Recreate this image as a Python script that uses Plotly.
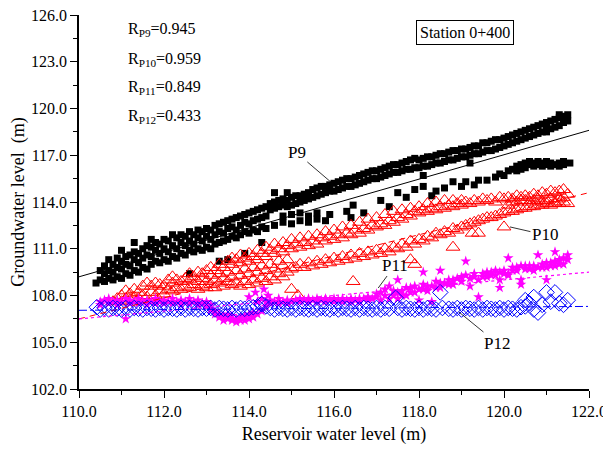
import plotly.graph_objects as go

# ---------------- data ----------------
# P9 : (reservoir level, groundwater level)
p9_pts = [
    (110.4,108.8),(110.5,109.0),(110.5,109.6),(110.6,108.9),(110.6,109.4),(110.6,109.9),(110.7,109.1),(110.7,109.6),(110.7,110.3),
    (110.8,109.0),(110.8,109.5),(110.8,110.0),(110.9,109.2),(110.9,109.8),(110.9,110.4),(111.0,109.1),(111.0,109.7),(111.0,110.2),
    (111.0,110.9),(111.1,109.4),(111.1,110.0),(111.1,110.5),(111.2,109.3),(111.2,109.9),(111.2,110.6),(111.3,109.6),(111.3,110.3),
    (111.3,110.8),(111.3,111.4),(111.4,109.5),(111.4,110.1),(111.4,110.7),(111.5,109.8),(111.5,110.4),(111.5,111.0),(111.6,109.7),
    (111.6,110.6),(111.6,111.2),(111.7,110.0),(111.7,110.5),(111.7,111.1),(111.7,111.6),(111.8,110.2),(111.8,110.9),(111.8,111.4),
    (111.9,110.1),(111.9,110.7),(111.9,111.3),(112.0,110.3),(112.0,111.0),(112.0,111.6),(112.1,110.2),(112.1,110.8),(112.1,111.5),
    (112.2,110.5),(112.2,111.2),(112.2,111.9),(112.3,110.4),(112.3,111.0),(112.3,111.7),(112.4,110.7),(112.4,111.4),(112.4,111.9),
    (112.5,110.6),(112.5,111.2),(112.5,111.8),(112.6,109.4),(112.6,110.9),(112.6,111.5),(112.6,112.1),(112.7,110.8),(112.7,111.3),
    (112.7,111.9),(112.8,111.0),(112.8,111.7),(112.8,112.2),(112.9,110.9),(112.9,111.5),(112.9,112.1),(113.0,111.1),(113.0,111.8),
    (113.0,112.3),(113.1,111.0),(113.1,111.6),(113.1,112.2),(113.2,111.3),(113.2,111.9),(113.2,112.5),(113.3,110.2),(113.3,111.4),
    (113.3,112.1),(113.3,112.6),(113.4,111.5),(113.4,112.0),(113.4,112.7),(113.5,110.3),(113.5,111.6),(113.5,112.3),(113.5,112.8),
    (113.6,111.8),(113.6,112.4),(113.6,112.9),(113.7,111.7),(113.7,112.2),(113.7,113.0),(113.8,111.9),(113.8,112.5),(113.8,113.1),
    (113.9,110.7),(113.9,112.1),(113.9,112.7),(113.9,113.2),(114.0,112.0),(114.0,112.6),(114.0,113.3),(114.1,112.2),(114.1,112.8),
    (114.1,113.4),(114.2,112.1),(114.2,112.9),(114.2,113.5),(114.3,111.4),(114.3,112.4),(114.3,113.0),(114.3,113.6),(114.4,112.3),
    (114.4,113.1),(114.4,113.7),
    (114.5,113.5),(114.5,113.9),(114.6,113.6),(114.6,114.0),(114.6,114.6),(114.7,113.7),(114.7,114.1),(114.8,113.8),(114.8,114.2),
    (114.9,113.7),(114.9,114.1),(114.9,114.6),(115.0,113.8),(115.0,114.3),(115.1,113.9),(115.1,114.4),(115.2,114.0),(115.2,114.4),
    (115.3,114.1),(115.3,114.5),(115.4,114.2),(115.4,114.6),(115.5,114.3),(115.5,114.8),(115.6,114.4),(115.6,114.9),(115.7,114.5),
    (115.7,115.0),(115.8,114.6),(115.8,115.0),(115.9,114.7),(115.9,115.1),(116.0,114.7),(116.0,115.2),(116.1,114.8),(116.1,115.3),
    (116.2,114.9),(116.2,115.4),(116.3,115.0),(116.3,115.5),(116.4,115.0),(116.4,115.5),(116.5,115.1),(116.5,115.6),(116.6,115.2),
    (116.6,115.7),(116.7,115.3),(116.7,115.8),(116.8,115.4),(116.8,115.9),(116.9,115.5),(116.9,116.0),(117.0,115.5),(117.0,116.0),
    (117.1,115.6),(117.1,116.1),(117.2,115.7),(117.2,116.2),(117.3,115.8),(117.3,116.3),(117.4,115.9),(117.4,116.4),(117.5,115.9),
    (117.5,116.4),(117.6,116.0),(117.6,116.5),(117.7,116.1),(117.7,116.6),(117.8,116.1),(117.8,116.7),(117.9,116.2),(117.9,116.8),
    (118.0,116.2),(118.0,116.7),(118.1,115.7),(118.1,116.3),(118.1,116.8),(118.2,116.3),(118.2,116.9),(118.3,116.4),(118.3,116.9),
    (118.4,116.5),(118.4,117.0),(118.5,116.5),(118.5,117.1),(118.6,116.6),(118.6,117.1),(118.7,116.7),(118.7,117.2),(118.8,116.7),
    (118.8,117.3),(118.9,116.8),(118.9,117.3),(119.0,116.9),(119.0,117.4),(119.1,116.9),(119.1,117.4),(119.2,116.5),(119.2,117.0),
    (119.2,117.5),(119.3,117.1),(119.3,117.6),(119.4,117.1),(119.4,117.6),(119.5,117.2),(119.5,117.8),(119.6,117.3),(119.6,117.8),
    (119.7,117.3),(119.7,117.9),(119.8,117.4),(119.8,118.0),(119.9,117.5),(119.9,118.0),(120.0,117.6),(120.0,118.1),(120.1,117.7),
    (120.1,118.2),(120.2,117.8),(120.2,118.3),(120.3,117.9),(120.3,118.4),(120.4,118.0),(120.4,118.5),(120.5,118.1),(120.5,118.6),
    (120.6,118.2),(120.6,118.7),(120.7,118.3),(120.7,118.8),(120.8,118.4),(120.8,118.9),(120.9,118.5),(120.9,119.0),(121.0,118.5),
    (121.0,118.7),(121.0,119.1),(121.1,118.7),(121.1,119.2),(121.2,118.8),(121.2,119.3),(121.3,118.9),(121.3,119.4),(121.3,119.6),
    (121.4,119.1),(121.4,119.5),(121.5,119.2),(121.5,119.6),
    (114.6,112.5),(114.8,112.7),(114.8,113.1),(115.0,112.6),(115.0,113.2),(115.2,112.8),(115.2,113.3),(115.4,112.7),(115.4,113.1),
    (115.6,112.9),(115.6,113.3),(115.8,112.8),(115.9,113.2),(116.3,113.4),(116.4,113.0),
    (116.45,113.8),(116.7,113.3),(117.1,114.1),(117.3,113.7),(117.5,114.6),(117.7,114.3),(117.9,114.8),(118.1,115.0),(118.3,114.4),
    (118.4,114.7),(118.6,114.9),(118.8,115.3),(119.0,115.0),(119.1,115.3),(119.3,115.1),(119.4,115.4),(119.6,115.4),(119.8,115.6),
    (119.9,115.8),(120.0,115.7),(120.1,116.0),(120.2,116.1),(120.3,116.3),(120.3,116.0),(120.4,116.4),(120.4,116.1),(120.5,116.5),
    (120.5,116.2),(120.6,116.4),(120.6,116.6),(120.7,116.3),(120.7,116.5),(120.8,116.6),(120.8,116.4),(120.9,116.5),(120.9,116.3),
    (121.0,116.4),(121.0,116.6),(121.1,116.5),(121.1,116.3),(121.2,116.4),(121.3,116.5),(121.3,116.3),(121.4,116.4),(121.4,116.6),
    (121.55,116.5),
]

# P10
p10_pts = [
    (110.8,107.6),(110.9,107.8),(111.0,107.6),(111.0,108.0),(111.1,107.8),(111.1,108.3),(111.2,107.7),(111.2,108.1),(111.3,107.9),
    (111.3,108.4),(111.4,107.8),(111.4,108.2),(111.5,108.0),(111.5,108.6),(111.6,107.9),(111.6,108.8),(111.7,108.2),(111.7,108.6),
    (111.8,108.0),(111.8,108.8),(111.9,108.3),(111.9,108.7),(112.0,108.1),(112.0,108.6),(112.1,108.4),(112.1,109.0),(112.2,108.3),
    (112.2,108.8),(112.2,109.2),(112.3,108.5),(112.3,109.0),(112.4,108.4),(112.4,108.9),(112.5,108.6),(112.5,109.1),(112.6,108.5),
    (112.6,109.0),(112.6,109.4),(112.7,108.7),(112.7,109.2),(112.8,108.4),(112.8,108.9),(112.8,109.5),(112.9,108.6),(112.9,109.1),
    (112.9,109.4),(113.0,108.5),(113.0,108.9),(113.0,109.6),(113.1,108.7),(113.1,109.3),(113.1,109.8),(113.2,108.5),(113.2,109.0),
    (113.2,109.6),(113.3,108.8),(113.3,109.4),(113.3,110.0),(113.4,108.6),(113.4,109.1),(113.4,109.8),(113.5,108.9),(113.5,109.5),
    (113.5,110.2),(113.6,108.7),(113.6,109.2),(113.6,110.0),(113.6,110.4),(113.7,108.8),(113.7,109.6),(113.7,110.3),(113.8,108.6),
    (113.8,109.3),(113.8,110.1),(113.8,110.6),(113.9,108.9),(113.9,109.7),(113.9,110.4),(114.0,108.7),(114.0,109.4),(114.0,110.2),
    (114.0,110.7),(114.1,109.0),(114.1,109.8),(114.1,110.5),(114.2,108.8),(114.2,109.5),(114.2,110.3),(114.2,110.9),(114.3,109.1),
    (114.3,109.9),(114.3,110.7),(114.4,108.9),(114.4,109.6),(114.4,110.5),(114.4,111.1),(114.5,109.2),(114.5,110.0),(114.5,110.9),
    (114.6,109.0),(114.6,109.7),(114.6,110.7),(114.6,111.3),(114.7,109.4),(114.7,110.2),(114.7,111.0),(114.8,109.2),(114.8,109.9),
    (114.8,110.8),(114.8,111.4),(114.9,109.5),(114.9,110.3),(114.9,111.2),(115.0,108.4),(115.0,109.7),(115.0,111.0),(115.0,111.6),
    (115.15,108.0),(115.1,109.8),(115.1,111.3),(115.2,110.0),(115.2,111.1),(115.2,111.7),(115.3,109.8),(115.3,111.4),(115.4,110.1),
    (115.4,111.2),(115.4,111.8),(115.5,109.9),(115.5,111.5),(115.6,110.2),(115.6,111.3),(115.6,111.9),(115.7,110.0),(115.7,111.7),
    (115.8,110.3),(115.8,111.5),(115.8,112.1),(115.9,110.1),(115.9,111.8),(116.0,110.4),(116.0,111.6),(116.0,112.2),(116.1,110.2),
    (116.1,111.9),(116.2,110.5),(116.2,111.7),(116.2,112.4),(116.3,110.3),(116.3,112.0),(116.45,108.9),(116.4,110.6),(116.4,111.9),
    (116.4,112.5),(116.5,110.4),(116.5,112.2),(116.6,110.7),(116.6,112.0),(116.6,112.7),(116.7,110.5),(116.7,112.3),(116.8,110.8),
    (116.8,112.2),(116.8,112.9),(116.9,110.6),(116.9,112.5),(117.0,110.9),(117.0,112.4),(117.0,113.0),(117.1,110.7),(117.1,112.6),
    (117.2,111.0),(117.2,112.5),(117.2,113.2),(117.3,110.8),(117.3,112.8),(117.4,111.1),(117.4,112.7),(117.4,113.4),(117.5,111.0),
    (117.5,113.0),(117.6,111.3),(117.6,112.9),(117.6,113.5),(117.7,111.1),(117.7,113.2),(117.8,110.3),(117.8,111.5),(117.8,113.1),
    (117.8,113.6),(117.9,110.0),(117.9,111.3),(117.9,113.4),(118.0,111.6),(118.0,113.3),(118.0,113.7),(118.1,111.5),(118.1,113.5),
    (118.2,111.8),(118.2,113.4),(118.2,113.9),(118.3,111.7),(118.3,113.6),(118.4,112.0),(118.4,113.5),(118.4,114.0),(118.5,111.9),
    (118.5,113.7),(118.6,112.1),(118.6,113.6),(118.6,114.1),(118.7,112.0),(118.7,113.8),(118.8,111.1),(118.8,112.3),(118.8,113.7),
    (118.8,114.1),(118.9,112.2),(118.9,113.9),(119.0,112.4),(119.0,113.8),(119.0,114.1),(119.1,112.5),(119.1,114.0),(119.25,112.0),
    (119.2,112.6),(119.2,113.9),(119.3,112.7),(119.3,114.1),(119.4,112.0),(119.4,112.8),(119.4,114.0),(119.5,112.9),(119.5,114.2),
    (119.6,113.0),(119.6,114.1),(119.7,113.0),(119.7,114.2),(119.8,113.1),(119.8,114.0),(119.9,113.2),(119.9,114.3),(120.0,112.4),
    (120.0,113.3),(120.0,114.2),(120.1,113.4),(120.1,113.8),(120.1,114.3),(120.2,113.4),(120.2,114.0),(120.2,114.2),(120.3,113.5),
    (120.3,114.0),(120.3,114.4),(120.4,113.6),(120.4,114.1),(120.4,114.3),(120.5,113.6),(120.5,114.1),(120.5,114.4),(120.6,113.7),
    (120.6,114.0),(120.6,114.3),(120.7,113.7),(120.7,114.1),(120.7,114.5),(120.8,113.8),(120.8,114.2),(120.8,114.4),(120.9,113.8),
    (120.9,114.0),(120.9,114.6),(121.0,113.9),(121.0,114.1),(121.0,114.5),(121.1,113.8),(121.1,114.2),(121.1,114.7),(121.2,113.9),
    (121.2,114.0),(121.2,114.6),(121.3,113.9),(121.3,114.2),(121.3,114.7),(121.4,114.0),(121.4,114.3),(121.4,114.8),(121.5,113.9),
    (121.5,114.5),
]

# P11
p11_pts = [
    (110.5,107.6),(110.5,107.4),(110.6,107.7),(110.7,107.5),(110.7,107.8),(110.8,107.6),(110.9,107.7),(110.9,107.4),(111.0,107.6),
    (111.1,106.5),(111.1,107.8),(111.2,107.5),(111.2,107.7),(111.3,107.6),(111.4,107.8),(111.4,107.5),(111.5,107.6),(111.6,107.7),
    (111.6,107.4),(111.7,107.6),(111.8,107.8),(111.8,107.5),(111.9,107.6),(112.0,107.7),(112.0,107.5),(112.1,107.6),(112.2,107.8),
    (112.2,107.5),(112.3,107.6),(112.4,107.7),(112.4,107.4),(112.5,107.6),(112.6,107.8),(112.6,107.5),(112.7,107.6),(112.8,107.7),
    (112.8,107.4),(112.9,107.5),(113.0,107.6),(113.0,107.3),(113.1,107.4),(113.1,107.1),(113.2,107.0),(113.2,106.8),(113.3,106.8),
    (113.3,106.6),(113.4,106.7),(113.4,106.4),(113.5,106.5),(113.5,106.8),(113.6,106.4),(113.6,106.7),(113.7,106.5),(113.7,106.3),
    (113.8,106.6),(113.8,106.4),(113.9,106.4),(113.9,106.7),(114.0,106.5),(114.0,106.8),(114.0,107.9),(114.1,106.6),(114.1,106.9),
    (114.15,108.2),(114.2,106.8),(114.2,107.6),(114.35,108.4),(114.3,107.0),(114.3,107.8),(114.45,108.0),(114.4,107.3),(114.4,107.6),
    (114.5,107.5),(114.5,107.7),(114.6,107.6),(114.7,107.5),(114.7,107.8),(114.8,107.6),(114.9,107.7),(114.9,107.5),(115.0,107.6),
    (115.1,107.7),(115.2,107.6),(115.2,107.8),(115.3,107.7),(115.4,107.6),(115.4,107.8),(115.5,107.7),(115.6,107.6),(115.6,107.8),
    (115.7,107.7),(115.8,107.6),(115.8,107.8),(115.9,107.7),(116.0,107.6),(116.0,107.8),(116.1,107.7),(116.2,107.8),(116.2,107.6),
    (116.3,107.7),(116.4,107.8),(116.4,107.6),(116.5,107.7),(116.6,107.8),(116.6,107.6),(116.7,107.8),(116.8,107.9),(116.8,107.7),
    (116.9,107.8),(117.0,107.9),(117.0,108.1),(117.1,107.7),(117.1,108.2),(117.2,108.0),(117.2,108.4),(117.3,108.6),(117.3,107.8),
    (117.4,108.0),(117.4,108.3),(117.5,109.0),(117.5,107.8),(117.5,108.2),(117.6,108.3),(117.6,108.0),(117.7,108.0),(117.7,108.5),
    (117.8,108.5),(117.8,108.2),(117.9,108.2),(117.9,108.6),(118.0,108.4),(118.0,107.7),(118.1,109.5),(118.1,108.7),(118.1,108.4),
    (118.2,108.3),(118.2,108.6),(118.3,108.6),(118.3,107.6),(118.4,108.9),(118.4,108.5),(118.5,109.6),(118.5,108.5),(118.5,108.8),
    (118.6,108.8),(118.7,109.0),(118.7,108.7),(118.8,108.7),(118.8,109.0),(118.9,109.1),(119.0,108.9),(119.0,109.2),(119.1,110.2),
    (119.1,109.3),(119.2,108.6),(119.2,109.1),(119.3,109.2),(119.3,109.4),(119.4,109.0),(119.4,107.9),(119.5,109.4),(119.5,109.2),
    (119.6,109.2),(119.6,109.5),(119.7,109.5),(119.7,109.3),(119.8,109.3),(119.8,109.6),(119.9,109.0),(119.9,108.5),(119.9,109.5),
    (120.0,109.6),(120.0,109.4),(120.1,110.4),(120.1,109.4),(120.1,109.3),(120.2,109.8),(120.2,109.6),(120.3,109.6),(120.3,109.8),
    (120.4,109.9),(120.4,109.0),(120.4,108.7),(120.5,109.7),(120.5,109.9),(120.6,109.9),(120.6,109.7),(120.7,109.6),(120.7,109.9),
    (120.8,110.6),(120.8,109.8),(120.9,110.0),(120.9,109.8),(121.0,109.8),(121.0,109.0),(121.0,110.1),(121.1,110.1),(121.1,109.9),
    (121.2,110.8),(121.2,109.9),(121.2,110.2),(121.3,110.3),(121.3,110.0),(121.4,110.0),(121.4,110.4),(121.5,110.6),(121.5,110.3),
]

# P12
p12_pts = [
    (110.42,107.25),(110.5,107.1),(110.6,107.2),(110.7,107.1),(110.8,107.2),(110.9,107.15),(111.0,107.1),(111.1,107.2),(111.2,107.1),
    (111.3,107.2),(111.4,107.15),(111.5,107.1),(111.6,107.2),(111.7,107.15),(111.8,107.1),(111.9,107.2),(112.0,107.1),(112.1,107.2),
    (112.2,107.15),(112.3,107.1),(112.4,107.2),(112.5,107.1),(112.6,107.2),(112.7,107.15),(112.8,107.1),(112.9,107.2),(113.0,107.15),
    (113.1,107.2),(113.2,107.1),(113.3,107.2),(113.4,107.15),(113.5,107.1),(113.6,107.2),(113.7,107.1),(113.8,107.2),(113.9,107.15),
    (114.0,107.2),(114.1,107.25),(114.2,107.3),(114.3,107.45),(114.4,107.3),(114.5,107.2),(114.6,107.1),(114.7,107.2),(114.8,107.15),
    (114.9,107.1),(115.0,107.2),(115.1,107.1),(115.2,107.2),(115.3,107.15),(115.4,107.1),(115.5,107.2),(115.6,107.1),(115.7,107.2),
    (115.8,107.15),(115.9,107.1),(116.0,107.2),(116.1,107.1),(116.2,107.2),(116.3,107.15),(116.4,107.1),(116.5,107.2),(116.6,107.1),
    (116.7,107.2),(116.8,107.15),(116.9,107.1),(117.0,107.2),(117.1,107.1),(117.2,107.2),(117.3,107.15),(117.45,107.85),(117.5,107.2),
    (117.6,107.1),(117.7,107.2),(117.8,107.15),(117.9,107.1),(118.0,107.2),(118.1,107.1),(118.2,107.2),(118.3,107.15),(118.4,107.1),
    (118.5,108.2),(118.55,107.2),(118.7,107.15),(118.8,107.1),(118.9,107.2),(119.0,107.1),(119.1,107.2),(119.2,107.15),(119.3,107.1),
    (119.4,107.2),(119.5,107.1),(119.6,107.2),(119.7,107.15),(119.8,107.1),(119.9,107.2),(120.0,107.1),(120.1,107.2),(120.2,107.15),
    (120.3,107.1),(120.4,107.25),(120.5,107.3),(120.5,107.7),(120.6,107.5),(120.7,107.1),(120.7,107.9),(120.8,106.9),(120.9,107.4),
    (121.0,108.2),(121.1,107.6),(121.2,108.2),(121.3,107.5),(121.4,107.4),(121.5,107.7),
]

p9_x, p9_y = [p[0] for p in p9_pts], [p[1] for p in p9_pts]
p10_x, p10_y = [p[0] for p in p10_pts], [p[1] for p in p10_pts]
p11_x, p11_y = [p[0] for p in p11_pts], [p[1] for p in p11_pts]
p12_x, p12_y = [p[0] for p in p12_pts], [p[1] for p in p12_pts]

# linear fits (end points)
fit_x = [110.0, 122.0]
p9_fit = [109.2, 118.6]
p10_fit = [106.5, 114.6]
p11_fit = [106.5, 109.5]
p12_fit = [107.05, 107.3]

r_labels = ["P9", "P10", "P11", "P12"]
r_values = [0.945, 0.959, 0.849, 0.433]

# ---------------- figure ----------------
FONT = "Liberation Serif"
fig = go.Figure()

fig.add_trace(go.Scatter(x=p9_x, y=p9_y, mode="markers", name="P9",
                         marker=dict(symbol="square", size=7, color="black", line=dict(width=0))))
fig.add_trace(go.Scatter(x=p10_x, y=p10_y, mode="markers", name="P10",
                         marker=dict(symbol="triangle-up-open", size=12, color="red", line=dict(width=1, color="red"))))
fig.add_trace(go.Scatter(x=p11_x, y=p11_y, mode="markers", name="P11",
                         marker=dict(symbol="star", size=8, color="#ff00ff", line=dict(width=0))))
fig.add_trace(go.Scatter(x=p12_x, y=p12_y, mode="markers", name="P12",
                         marker=dict(symbol="diamond-open", size=12, color="blue", line=dict(width=1, color="blue"))))

fig.add_trace(go.Scatter(x=fit_x, y=p9_fit, mode="lines", line=dict(color="black", width=1)))
fig.add_trace(go.Scatter(x=fit_x, y=p10_fit, mode="lines", line=dict(color="red", width=1, dash="6px,5px")))
fig.add_trace(go.Scatter(x=fit_x, y=p11_fit, mode="lines", line=dict(color="#ff00ff", width=1.2, dash="dot")))
fig.add_trace(go.Scatter(x=fit_x, y=p12_fit, mode="lines", line=dict(color="blue", width=1, dash="8px,3px,2px,3px")))

annotations = []
ys = [0.96, 0.882, 0.805, 0.728]
for lab, val, yy in zip(r_labels, r_values, ys):
    annotations.append(dict(xref="paper", yref="paper", x=0.093, y=yy, xanchor="left", yanchor="middle",
                            text=f"R<sub>{lab}</sub>={val:.3f}", showarrow=False,
                            font=dict(family=FONT, size=16, color="black")))
annotations.append(dict(xref="paper", yref="paper", x=0.757, y=0.952, xanchor="center", yanchor="middle",
                        text="Station 0+400", showarrow=False, bordercolor="black", borderwidth=1, borderpad=3,
                        font=dict(family=FONT, size=16, color="black")))

labels = [("P9", 116.09, 114.9, -41, -35), ("P10", 120.14, 112.4, 35, 8),
          ("P11", 117.04, 108.48, 17, -23), ("P12", 118.94, 106.94, 38, 31)]
for t, lx, ly, ax, ay in labels:
    annotations.append(dict(x=lx, y=ly, xref="x", yref="y", text=t, showarrow=True, arrowhead=0,
                            arrowwidth=0.8, arrowcolor="black", ax=ax, ay=ay,
                            font=dict(family=FONT, size=17, color="black")))

# the page body adds an 8 px margin, so the figure is sized to fill the 611x452 window
fig.update_layout(
    width=603, height=444,
    margin=dict(l=71, r=22, t=7, b=63),
    plot_bgcolor="white", paper_bgcolor="white",
    showlegend=False,
    font=dict(family=FONT, size=16, color="black"),
    annotations=annotations,
)
fig.update_xaxes(range=[110, 122], dtick=2, tick0=110, tickformat=".1f", automargin=False,
                 ticklabeloverflow="allow",
                 showline=True, linecolor="black", linewidth=1.5, showgrid=False, zeroline=False,
                 ticks="outside", ticklen=7, tickwidth=1.2, tickcolor="black",
                 minor=dict(dtick=1, ticks="outside", ticklen=4, tickwidth=1.2, tickcolor="black", showgrid=False),
                 tickfont=dict(family=FONT, size=16),
                 title=dict(text="Reservoir water level (m)", font=dict(family=FONT, size=18), standoff=8))
fig.update_yaxes(range=[102, 126], dtick=3, tick0=102, tickformat=".1f", automargin=False,
                 ticklabeloverflow="allow",
                 showline=True, linecolor="black", linewidth=1.5, showgrid=False, zeroline=False,
                 ticks="outside", ticklen=7, tickwidth=1.2, tickcolor="black",
                 minor=dict(dtick=1.5, ticks="outside", ticklen=4, tickwidth=1.2, tickcolor="black", showgrid=False),
                 tickfont=dict(family=FONT, size=16),
                 title=dict(text="Groundwater level\u00a0 (m)", font=dict(family=FONT, size=18), standoff=8))

fig.write_html("out.html")
